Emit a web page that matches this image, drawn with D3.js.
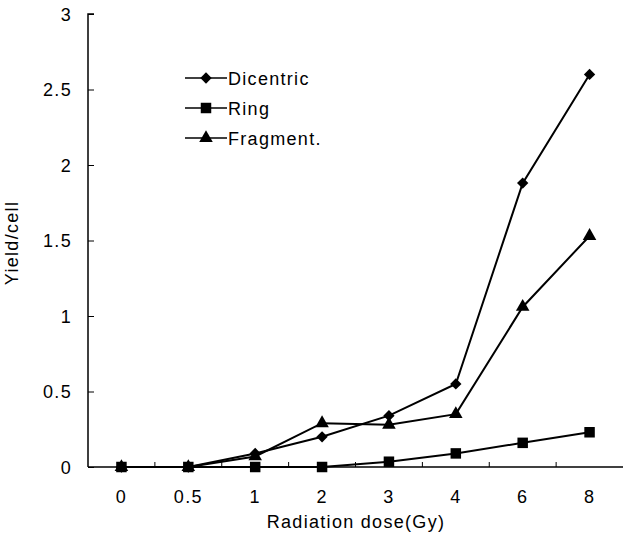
<!DOCTYPE html>
<html>
<head>
<meta charset="utf-8">
<script src="https://cdn.jsdelivr.net/npm/d3@7"></script>
<style>
body { margin: 0; background: #fff; }
svg { display: block; font-family: "Liberation Sans", Arial, sans-serif; }
text { letter-spacing: 1.3px; }
</style>
</head>
<body>
<svg id="chart" width="623" height="539"></svg>
<script>
var doses = ["0", "0.5", "1", "2", "3", "4", "6", "8"]
var dicentric = [0, 0, 0.09, 0.2, 0.34, 0.55, 1.88, 2.6]
var ring = [0, 0, 0, 0, 0.035, 0.09, 0.16, 0.23]
var fragment = [0, 0, 0.07, 0.29, 0.28, 0.35, 1.06, 1.53]
var yTicks = [0, 0.5, 1, 1.5, 2, 2.5, 3]

// marker styles: diamond is a square turned 45 degrees
var series = [
	{"name": "Dicentric", "values": dicentric, "shape": d3.symbolSquare, "size": 64, "rot": 45},
	{"name": "Ring", "values": ring, "shape": d3.symbolSquare, "size": 110, "rot": 0},
	{"name": "Fragment.", "values": fragment, "shape": d3.symbolTriangle, "size": 80, "rot": 0}
]
// ring markers sit on top where the series overlap at zero
var drawOrder = [series[2], series[0], series[1]]

var svg = d3.select("#chart")
var mLeft = 88, mRight = 623, mTop = 14, mBottom = 467

var x = d3.scaleBand().domain(doses).range([mLeft, mRight])
var y = d3.scaleLinear().domain([0, 3]).range([mBottom, mTop])

// x axis: ticks at band edges, pointing inwards
var xg = svg.append("g").attr("transform", "translate(0," + mBottom + ")")
xg.append("line").attr("x1", mLeft).attr("x2", mRight).attr("stroke", "#000").attr("stroke-width", 1.5)
xg.selectAll(".xt")
	.data(doses.slice(1))
	.enter()
	.append("line")
	.attr("x1", function(d) {return x(d);})
	.attr("x2", function(d) {return x(d);})
	.attr("y1", 0).attr("y2", -5)
	.attr("stroke", "#000")
xg.selectAll("text")
	.data(doses)
	.enter()
	.append("text")
	.text(function(d) {return d;})
	.attr("x", function(d) {return x(d) + x.bandwidth() / 2;})
	.attr("y", 36)
	.attr("text-anchor", "middle")
	.attr("font-size", "18px")

// y axis
var yAxis = d3.axisLeft(y).tickValues(yTicks).tickSize(-6).tickPadding(16).tickFormat(d3.format("~g"))
var yg = svg.append("g").attr("transform", "translate(" + mLeft + ",0)").call(yAxis)
yg.select(".domain").attr("stroke-width", 1.5).attr("d", "M0," + mBottom + "V" + mTop + "H6")
yg.selectAll("text").attr("font-size", "18px").attr("font-family", "Liberation Sans, Arial, sans-serif").attr("dy", "0.35em")

svg.append("text")
	.text("Yield/cell")
	.attr("transform", "translate(18,243) rotate(-90)")
	.attr("text-anchor", "middle")
	.attr("font-size", "18px")

svg.append("text")
	.text("Radiation dose(Gy)")
	.attr("x", 356).attr("y", 528)
	.attr("text-anchor", "middle")
	.attr("font-size", "18px")

var line = d3.line()
	.x(function(d, i) {return x(doses[i]) + x.bandwidth() / 2;})
	.y(function(d) {return y(d);})

drawOrder.forEach(function(s) {
	svg.append("path")
		.attr("d", line(s.values))
		.attr("fill", "none")
		.attr("stroke", "#000")
		.attr("stroke-width", 2)
	svg.selectAll(null)
		.data(s.values)
		.enter()
		.append("path")
		.attr("d", d3.symbol().type(s.shape).size(s.size))
		.attr("transform", function(d, i) {
			return "translate(" + (x(doses[i]) + x.bandwidth() / 2) + "," + y(d) + ") rotate(" + s.rot + ")"
		})
		.attr("fill", "#000")
})

// legend
var legend = svg.append("g").attr("transform", "translate(185,78)")
series.forEach(function(s, i) {
	var g = legend.append("g").attr("transform", "translate(0," + (i * 30) + ")")
	g.append("line").attr("x1", 0).attr("x2", 42).attr("stroke", "#000").attr("stroke-width", 1.5)
	g.append("path").attr("d", d3.symbol().type(s.shape).size(s.size)).attr("transform", "translate(21,0) rotate(" + s.rot + ")").attr("fill", "#000")
	g.append("text").text(s.name).attr("x", 43).attr("y", 6.5).attr("font-size", "18px")
})
</script>
</body>
</html>
